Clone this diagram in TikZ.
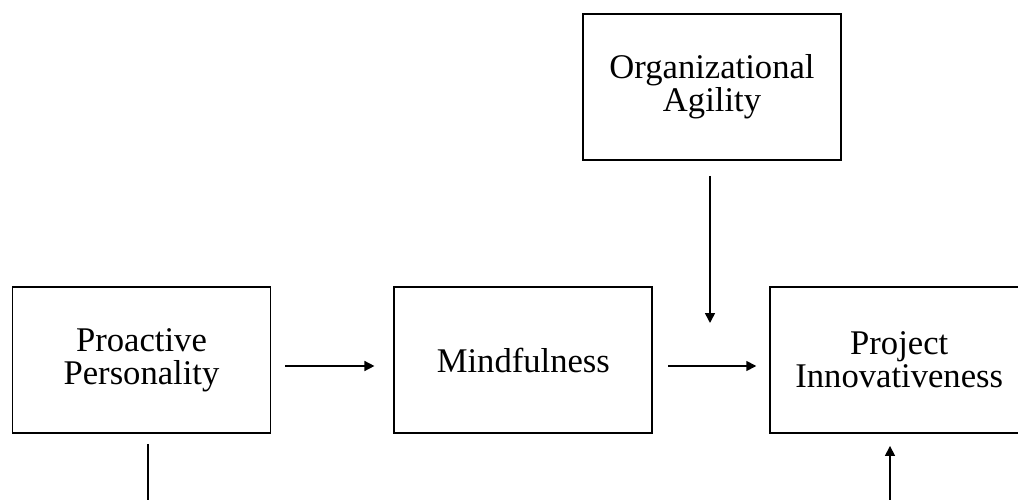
\documentclass[tikz,border=0pt]{standalone}
\usepackage{fontspec}
\setmainfont{Liberation Serif}
\usetikzlibrary{positioning,arrows.meta}

\begin{document}
\begin{tikzpicture}[x=0.02cm,y=-0.02cm,>={Triangle[length=2mm,width=2mm]},
  box/.style={draw,line width=1.1pt,minimum width=5.16cm,minimum height=2.92cm,
    align=center,inner sep=0pt,font=\fontsize{19.7}{19}\selectfont},
  link/.style={line width=0.9pt}]
  \clip (0,0) rectangle (1018,500);
  \node[box] (proactive) at (141.5,360) {Proactive\\Personality};
  \node[box,right=2.44cm of proactive] (mind) {Mindfulness};
  \node[box,right=2.32cm of mind] (project) {Project\\Innovativeness};
  \node[box] (org) at (712,87) {Organizational\\Agility};
  \coordinate (mod) at (710,323);
  \coordinate (pbot) at (148,520);
  \coordinate (ibot) at (890,520);
  \draw[link,->,shorten <=0.28cm,shorten >=0.38cm]
    ([yshift=-0.12cm]proactive.east) -- ([yshift=-0.12cm]mind.west);
  \draw[link,->,shorten <=0.3cm,shorten >=0.26cm]
    ([yshift=-0.12cm]mind.east) -- ([yshift=-0.12cm]project.west);
  \draw[link,->,shorten <=0.3cm] (mod |- org.south) -- (mod);
  \draw[link,shorten <=0.2cm] (pbot |- proactive.south) -- (pbot);
  \draw[link,->,shorten >=0.24cm] (ibot) -- (ibot |- project.south);
\end{tikzpicture}
\end{document}
